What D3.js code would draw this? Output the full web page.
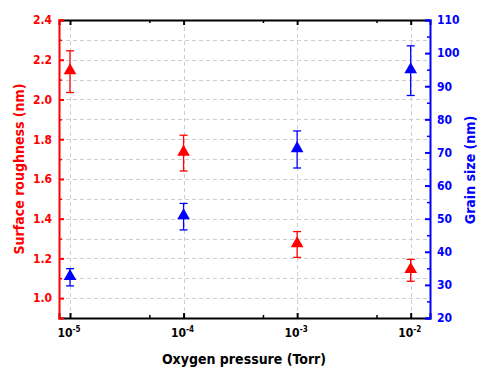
<!DOCTYPE html>
<html lang="en">
<head>
  <meta charset="UTF-8">
  <title>Surface roughness and grain size</title>
  <script src="https://cdn.jsdelivr.net/npm/d3@7"></script>
  <style>
    body { margin: 0; background: #fff; }
    text { font-family: "DejaVu Sans Condensed", "DejaVu Sans", sans-serif; font-stretch: condensed; font-weight: bold; }
  </style>
</head>
<body>
<svg id="chart" width="477" height="368"></svg>
<script>
  // oxygen pressure (Torr)
  const pressures = [1e-5, 1e-4, 1e-3, 1e-2]
  const roughness = [2.14, 1.73, 1.27, 1.14]
  const roughnessErr = [0.105, 0.09, 0.065, 0.055]
  const grain = [32.3, 50.6, 70.9, 94.7]
  const grainErr = [2.6, 4.0, 5.6, 7.5]
  const leftTicks = [1.0, 1.2, 1.4, 1.6, 1.8, 2.0, 2.2, 2.4]
  const rightTicks = [20, 30, 40, 50, 60, 70, 80, 90, 100, 110]

  const svg = d3.select("#chart")
  const m = { left: 59, right: 430, top: 20, bottom: 318 }
  const red = "#ff0000", blue = "#0000ff"

  const x = d3.scaleLog().domain([Math.pow(10, -5.097), Math.pow(10, -1.83)]).range([m.left, m.right])
  const yL = d3.scaleLinear().domain([0.9, 2.4]).range([m.bottom, m.top])
  const yR = d3.scaleLinear().domain([20, 110]).range([m.bottom, m.top])

  const minorX = [5e-5, 5e-4, 5e-3]

  // grid
  const grid = svg.append("g").attr("stroke", "#cfcfcf").attr("stroke-dasharray", "4,3").attr("stroke-width", 1)
  d3.range(1.0, 2.35, 0.1).forEach(v => {
    grid.append("line").attr("x1", m.left).attr("x2", m.right)
      .attr("y1", Math.round(yL(v)) + 0.5).attr("y2", Math.round(yL(v)) + 0.5)
  })
  pressures.forEach(p => {
    grid.append("line").attr("y1", m.top).attr("y2", m.bottom)
      .attr("x1", Math.round(x(p)) + 0.5).attr("x2", Math.round(x(p)) + 0.5)
  })

  // top and bottom axes (black, ticks inward)
  function frame(yPos, axisFn) {
    svg.append("g").attr("transform", `translate(0,${yPos})`)
      .call(axisFn(x).tickValues(pressures).tickSize(5).tickFormat(""))
      .call(g => g.select(".domain").attr("stroke-width", 2))
      .call(g => g.selectAll(".tick line").attr("stroke-width", 2))
    svg.append("g").attr("transform", `translate(0,${yPos})`)
      .call(axisFn(x).tickValues(minorX).tickSize(3).tickFormat(""))
      .call(g => g.select(".domain").remove())
      .call(g => g.selectAll(".tick line").attr("stroke-width", 1.5))
  }
  frame(m.bottom, d3.axisTop)
  frame(m.top, d3.axisBottom)

  // x tick labels 10^n
  pressures.forEach(p => {
    const t = svg.append("text").attr("x", x(p) - 1).attr("y", 337)
      .attr("text-anchor", "middle").attr("font-size", 12).attr("fill", "#000")
    t.append("tspan").text("10")
    t.append("tspan").attr("dy", -5).attr("font-size", 8).text("-" + Math.round(-Math.log10(p)))
  })

  // left axis (red)
  const gL = svg.append("g").attr("transform", `translate(${m.left},0)`)
    .call(d3.axisRight(yL).tickValues(leftTicks).tickSize(5).tickFormat(d3.format(".1f")))
  gL.selectAll("line, path").attr("stroke", red).attr("stroke-width", 2)
  gL.selectAll("text").attr("fill", red).attr("font-size", 12).attr("x", -7).attr("text-anchor", "end")
    .attr("font-family", null)
  svg.append("g").attr("transform", `translate(${m.left},0)`)
    .call(d3.axisRight(yL).tickValues(d3.range(1.1, 2.4, 0.2)).tickSize(3).tickFormat(""))
    .call(g => g.select(".domain").remove())
    .call(g => g.selectAll("line").attr("stroke", red).attr("stroke-width", 1.5))

  // right axis (blue)
  const gR = svg.append("g").attr("transform", `translate(${m.right},0)`)
    .call(d3.axisLeft(yR).tickValues(rightTicks).tickSize(5).tickFormat(d3.format("d")))
  gR.selectAll("line, path").attr("stroke", blue).attr("stroke-width", 2)
  gR.selectAll("text").attr("fill", blue).attr("font-size", 12).attr("x", 7).attr("text-anchor", "start")
  svg.append("g").attr("transform", `translate(${m.right},0)`)
    .call(d3.axisLeft(yR).tickValues(d3.range(25, 110, 10)).tickSize(3).tickFormat(""))
    .call(g => g.select(".domain").remove())
    .call(g => g.selectAll("line").attr("stroke", blue).attr("stroke-width", 1.5))
  svg.selectAll(".tick text").attr("font-family", null).attr("font-weight", null)

  // axis titles
  svg.append("text").attr("x", 244).attr("y", 364).attr("text-anchor", "middle")
    .attr("font-size", 14).attr("fill", "#000").text("Oxygen pressure (Torr)")
  svg.append("text").attr("transform", "translate(24,169) rotate(-90)").attr("text-anchor", "middle")
    .attr("font-size", 14).attr("fill", red).text("Surface roughness (nm)")
  svg.append("text").attr("transform", "translate(475,170) rotate(-90)").attr("text-anchor", "middle")
    .attr("font-size", 14).attr("fill", blue).text("Grain size (nm)")

  // series with error bars and triangle markers
  const tri = d3.symbol().type(d3.symbolTriangle).size(70)
  function drawSeries(vals, errs, y, color) {
    const g = svg.append("g").attr("stroke", color).attr("fill", color)
    pressures.forEach((p, i) => {
      const cx = x(p)
      g.append("line").attr("x1", cx).attr("x2", cx)
        .attr("y1", y(vals[i] + errs[i])).attr("y2", y(vals[i] - errs[i])).attr("stroke-width", 1.3)
      ;[vals[i] + errs[i], vals[i] - errs[i]].forEach(v => {
        g.append("line").attr("x1", cx - 4).attr("x2", cx + 4)
          .attr("y1", y(v)).attr("y2", y(v)).attr("stroke-width", 1.3)
      })
      g.append("path").attr("d", tri).attr("transform", `translate(${cx},${y(vals[i]) - 1})`)
        .attr("stroke", "none")
    })
  }
  drawSeries(roughness, roughnessErr, yL, red)
  drawSeries(grain, grainErr, yR, blue)
</script>
</body>
</html>
